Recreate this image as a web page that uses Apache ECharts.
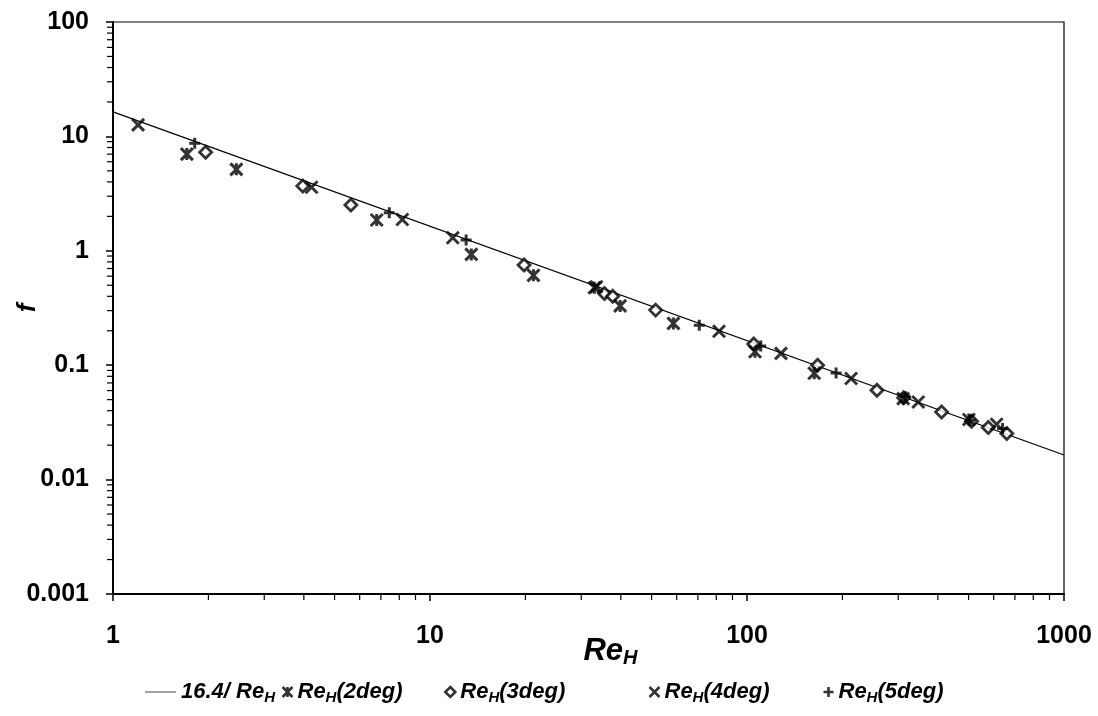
<!DOCTYPE html>
<html>
<head>
<meta charset="utf-8">
<script src="https://cdn.jsdelivr.net/npm/echarts@6/dist/echarts.min.js"></script>
<style>
html, body { margin: 0; padding: 0; background: #fff; }
#chart { width: 1098px; height: 716px; }
</style>
</head>
<body>
<div id="chart"></div>
<script>
// values
const lineRe = [1, 1000];
const lineF = [16.4, 0.0164];

const re2 = [1.71, 2.45, 6.79, 13.5, 21.2, 33.0, 39.8, 58.6, 106, 163, 311, 501];
const f2 = [7.0, 5.15, 1.86, 0.93, 0.61, 0.475, 0.33, 0.232, 0.131, 0.085, 0.051, 0.0335];

const re3 = [1.96, 3.97, 5.63, 19.8, 35.5, 37.7, 51.5, 105, 167, 257, 312, 411, 511, 577, 660];
const f3 = [7.26, 3.68, 2.51, 0.75, 0.424, 0.401, 0.303, 0.153, 0.1, 0.0604, 0.052, 0.039, 0.0324, 0.0285, 0.0253];

const re4 = [1.2, 4.23, 8.18, 11.8, 33.5, 81.6, 128, 213, 347, 613];
const f4 = [12.6, 3.59, 1.88, 1.30, 0.485, 0.198, 0.127, 0.0765, 0.0477, 0.0305];

const re5 = [1.81, 7.44, 13.0, 70.7, 110.5, 191, 316, 505, 640];
const f5 = [8.7, 2.15, 1.24, 0.224, 0.147, 0.0856, 0.053, 0.033, 0.028];

const xTicks = ['1', '10', '100', '1000'];
const yTicks = ['0.001', '0.01', '0.1', '1', '10', '100'];

const FONT = '"Liberation Sans", Arial, sans-serif';
const zip = (xs, ys) => xs.map((x, i) => [x, ys[i]]);
const pickLabel = (list, v) => list.find(t => Math.abs(Math.log10(+t) - Math.log10(v)) < 0.01) || '';

// marker shapes
const STAR = 'path://M0,0L10,10M10,0L0,10M5,0L5,10';
const CROSS = 'path://M0,0L10,10M10,0L0,10';
const PLUS = 'path://M5,0L5,10M0,5L10,5';

const strokeMark = {color: 'none', borderColor: '#000', borderWidth: 3};

const legendRich = {
  t: {fontFamily: FONT, fontSize: 22, fontWeight: 'bold', fontStyle: 'italic', color: '#000', lineHeight: 26},
  s: {fontFamily: FONT, fontSize: 15, fontWeight: 'bold', fontStyle: 'italic', color: '#000', lineHeight: 13, verticalAlign: 'bottom'}
};
const legendText = name => name === 'fit' ? '{t|16.4/ Re}{s|H}' : '{t|Re}{s|H}{t|(' + name + ')}';

const oneLegend = (name, left, w, h, style, icon) => ({
  data: [icon ? {name: name, icon: icon} : name],
  left: left,
  top: 681,
  padding: 0,
  orient: 'horizontal',
  itemWidth: w,
  itemHeight: h,
  selectedMode: false,
  formatter: legendText,
  textStyle: {rich: legendRich},
  itemStyle: style
});

const chart = echarts.init(document.getElementById('chart'));

chart.setOption({
  animation: false,
  backgroundColor: '#fff',
  grid: {
    left: 113, right: 34, top: 22, bottom: 122,
    containLabel: false, outerBoundsMode: 'none',
    show: true, borderColor: '#000', borderWidth: 1.2
  },
  xAxis: {
    type: 'log',
    logBase: 10,
    min: 1,
    max: 1000,
    name: '{t|Re}{s|H}',
    nameLocation: 'middle',
    nameGap: 40,
    nameMoveOverlap: false,
    nameTextStyle: {
      padding: [0, 0, 0, 44],
      rich: {
        t: {fontFamily: FONT, fontSize: 31, fontWeight: 'bold', fontStyle: 'italic', color: '#000', lineHeight: 34},
        s: {fontFamily: FONT, fontSize: 20, fontWeight: 'bold', fontStyle: 'italic', color: '#000', lineHeight: 15, verticalAlign: 'bottom'}
      }
    },
    axisLine: {lineStyle: {color: '#000', width: 2}},
    axisTick: {inside: false, length: 7, lineStyle: {color: '#000', width: 1.5}},
    axisLabel: {
      margin: 30,
      fontFamily: FONT, fontSize: 25, fontWeight: 'bold', color: '#000',
      formatter: v => pickLabel(xTicks, v)
    },
    splitLine: {show: false}
  },
  yAxis: {
    type: 'log',
    logBase: 10,
    min: 0.001,
    max: 100,
    name: 'f',
    nameLocation: 'middle',
    nameGap: 72,
    nameMoveOverlap: false,
    nameTextStyle: {fontFamily: FONT, fontSize: 26, fontWeight: 'bold', fontStyle: 'italic', color: '#000'},
    axisLine: {lineStyle: {color: '#000', width: 2}},
    axisTick: {inside: false, length: 7, lineStyle: {color: '#000', width: 1.5}},
    axisLabel: {
      margin: 24,
      fontFamily: FONT, fontSize: 25, fontWeight: 'bold', color: '#000',
      formatter: v => pickLabel(yTicks, v)
    },
    splitLine: {show: false}
  },
  legend: [
    oneLegend('fit', 145, 31, 1, {color: '#444'}, 'rect'),
    oneLegend('2deg', 280, 10, 10, {color: 'none', borderColor: '#000', borderWidth: 2.6}),
    oneLegend('3deg', 444, 10, 10, {color: '#fff', borderColor: '#000', borderWidth: 2.6}),
    oneLegend('4deg', 647, 10, 10, {color: 'none', borderColor: '#000', borderWidth: 2.6}),
    oneLegend('5deg', 821, 10, 10, {color: 'none', borderColor: '#000', borderWidth: 2.6})
  ],
  series: [
    {
      name: 'fit',
      type: 'line',
      data: zip(lineRe, lineF),
      symbol: 'none',
      lineStyle: {color: '#000', width: 1.2},
      itemStyle: {color: '#000'},
      z: 1
    },
    {
      name: '2deg', type: 'scatter', data: zip(re2, f2),
      symbol: STAR, symbolSize: 12, itemStyle: strokeMark, z: 3
    },
    {
      name: '3deg', type: 'scatter', data: zip(re3, f3),
      symbol: 'diamond', symbolSize: 12,
      itemStyle: {color: '#fff', borderColor: '#000', borderWidth: 2.8}, z: 2
    },
    {
      name: '4deg', type: 'scatter', data: zip(re4, f4),
      symbol: CROSS, symbolSize: 12, itemStyle: strokeMark, z: 3
    },
    {
      name: '5deg', type: 'scatter', data: zip(re5, f5),
      symbol: PLUS, symbolSize: 11, itemStyle: strokeMark, z: 3
    }
  ]
});

// minor ticks at 2..9 of every decade, placed through the axes' own scales
const x0 = chart.convertToPixel({xAxisIndex: 0}, 1);
const y0 = chart.convertToPixel({yAxisIndex: 0}, 0.001);
const minor = [];
for (let k = 0; k < 3; k++) {
  for (let m = 2; m <= 9; m++) {
    const px = chart.convertToPixel({xAxisIndex: 0}, m * Math.pow(10, k));
    minor.push({type: 'line', shape: {x1: px, y1: y0, x2: px, y2: y0 + 6}, style: {stroke: '#000', lineWidth: 1.2}, silent: true});
  }
}
for (let k = -3; k < 2; k++) {
  for (let m = 2; m <= 9; m++) {
    const py = chart.convertToPixel({yAxisIndex: 0}, m * Math.pow(10, k));
    minor.push({type: 'line', shape: {x1: x0 - 6, y1: py, x2: x0, y2: py}, style: {stroke: '#000', lineWidth: 1.2}, silent: true});
  }
}
chart.setOption({graphic: minor});
</script>
</body>
</html>
